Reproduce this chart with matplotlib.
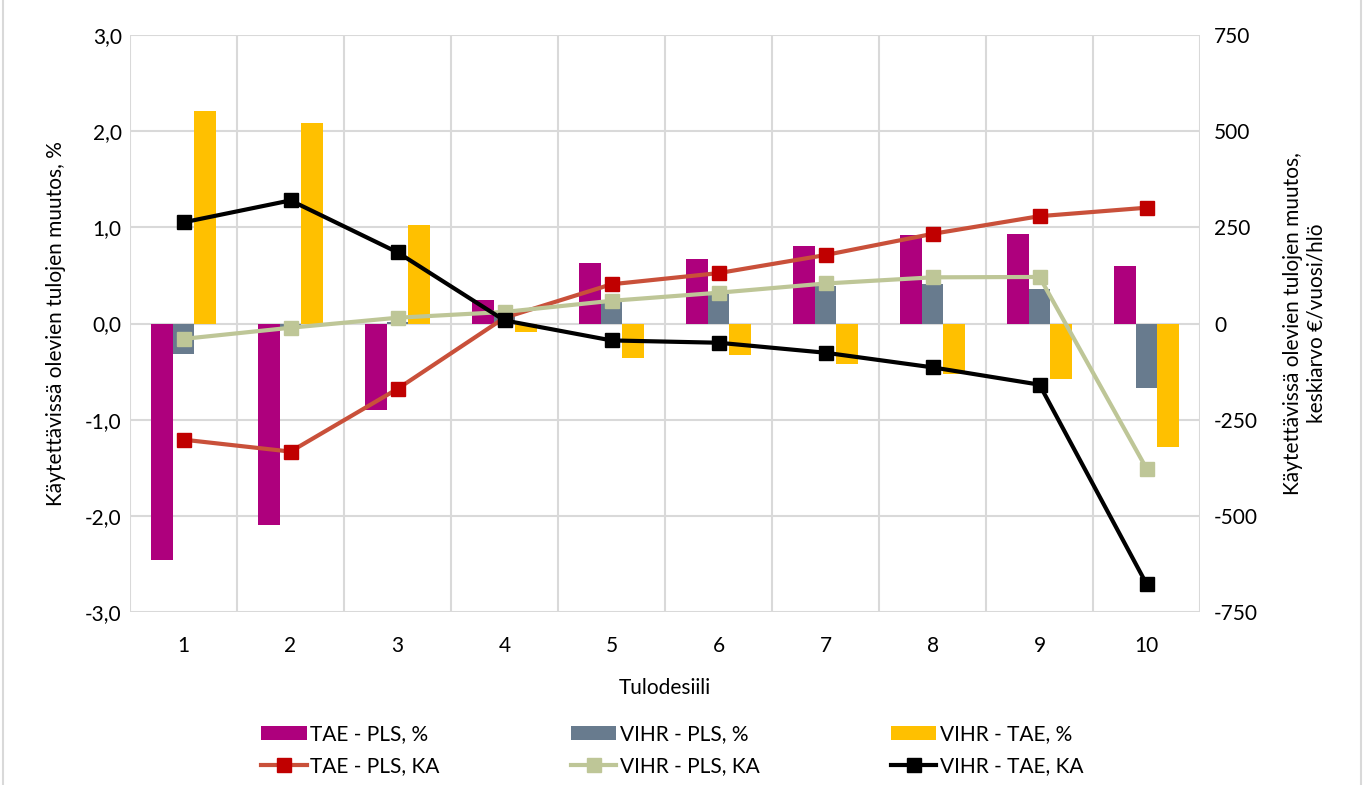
import matplotlib.pyplot as plt
import matplotlib.ticker as ticker
from matplotlib.patches import Rectangle
import numpy as np

plt.rcParams['font.family'] = ['Lato', 'DejaVu Sans']
plt.rcParams['axes.unicode_minus'] = False

# --- data ---
desiilit = [1, 2, 3, 4, 5, 6, 7, 8, 9, 10]

tae_pls_pct = [-2.46, -2.10, -0.90, 0.24, 0.63, 0.67, 0.81, 0.92, 0.93, 0.60]
vihr_pls_pct = [-0.32, -0.04, 0.02, 0.08, 0.22, 0.31, 0.39, 0.41, 0.36, -0.67]
vihr_tae_pct = [2.21, 2.08, 1.02, -0.09, -0.36, -0.33, -0.42, -0.52, -0.58, -1.28]

tae_pls_ka = [-302, -333, -170, 15, 102, 131, 178, 233, 279, 301]
vihr_pls_ka = [-40, -11, 15, 30, 59, 80, 104, 120, 121, -377]
vihr_tae_ka = [263, 320, 185, 8, -44, -50, -76, -114, -159, -677]

# --- figure ---
fig = plt.figure(figsize=(13.66, 7.85), dpi=100)
ax = fig.add_axes([130 / 1366, 1 - 612 / 785, 1070 / 1366, 577 / 785])
ax2 = ax.twinx()

x = np.array(desiilit)
w = 0.2
ax.bar(x - w, tae_pls_pct, w, color='#ae007d', label='TAE - PLS, %', zorder=2)
ax.bar(x, vihr_pls_pct, w, color='#687b8e', label='VIHR - PLS, %', zorder=2)
ax.bar(x + w, vihr_tae_pct, w, color='#ffc000', label='VIHR - TAE, %', zorder=2)

l1, = ax2.plot(x, tae_pls_ka, color='#c9503a', lw=3, marker='s', ms=10,
               mfc='#c00000', mec='#c00000', label='TAE - PLS, KA')
l2, = ax2.plot(x, vihr_pls_ka, color='#bec697', lw=3, marker='s', ms=10,
               mfc='#bec697', mec='#bec697', label='VIHR - PLS, KA')
l3, = ax2.plot(x, vihr_tae_ka, color='black', lw=3, marker='s', ms=10,
               mfc='black', mec='black', label='VIHR - TAE, KA')

ax.set_xlim(0.5, 10.5)
ax.set_ylim(-3, 3)
ax2.set_ylim(-750, 750)
ax.set_xticks(x)
ax.set_xticklabels([str(d) for d in desiilit])
ax.set_yticks(np.arange(-3, 3.01, 1))
ax.yaxis.set_major_formatter(ticker.FuncFormatter(lambda v, p: f'{v:.1f}'.replace('.', ',')))
ax2.set_yticks(np.arange(-750, 751, 250))

# gridlines: horizontal at ticks, vertical between categories
for yv in np.arange(-3, 3.01, 1):
    ax.axhline(yv, color='#d9d9d9', lw=1.5, zorder=0)
for xv in np.arange(0.5, 10.6, 1):
    ax.axvline(xv, color='#d9d9d9', lw=1.5, zorder=0)

fs = 15
for a in (ax, ax2):
    for s in a.spines.values():
        s.set_visible(False)
    a.tick_params(length=0, labelsize=fs, colors='black')
ax.tick_params(axis='x', pad=17)
ax.tick_params(axis='y', pad=6)
ax2.tick_params(axis='y', pad=10)

ax.set_xlabel('Tulodesiili', fontsize=fs, labelpad=16)
ax.set_ylabel('Käytettävissä olevien tulojen muutos, %', fontsize=fs, labelpad=14)
ax2.set_ylabel('Käytettävissä olevien tulojen muutos,\nkeskiarvo €/vuosi/hlö',
               fontsize=fs, labelpad=18)

# legend: bars on the first row, lines on the second
h, lab = ax.get_legend_handles_labels()
handles = [h[0], l1, h[1], l2, h[2], l3]
labels = [lab[0], l1.get_label(), lab[1], l2.get_label(), lab[2], l3.get_label()]
fig.legend(handles, labels, ncol=3, loc='center', bbox_to_anchor=(0.492, 0.0445),
           frameon=False, fontsize=fs, columnspacing=6.3, handlelength=2.2,
           handletextpad=0.15, labelspacing=0.55)

# outer chart border
fig.patches.append(Rectangle((3 / 1366, -0.01), 1358 / 1366, 1.02,
                             transform=fig.transFigure, fill=False,
                             edgecolor='#d9d9d9', lw=1.5))

fig.savefig('out.png', dpi=100)
